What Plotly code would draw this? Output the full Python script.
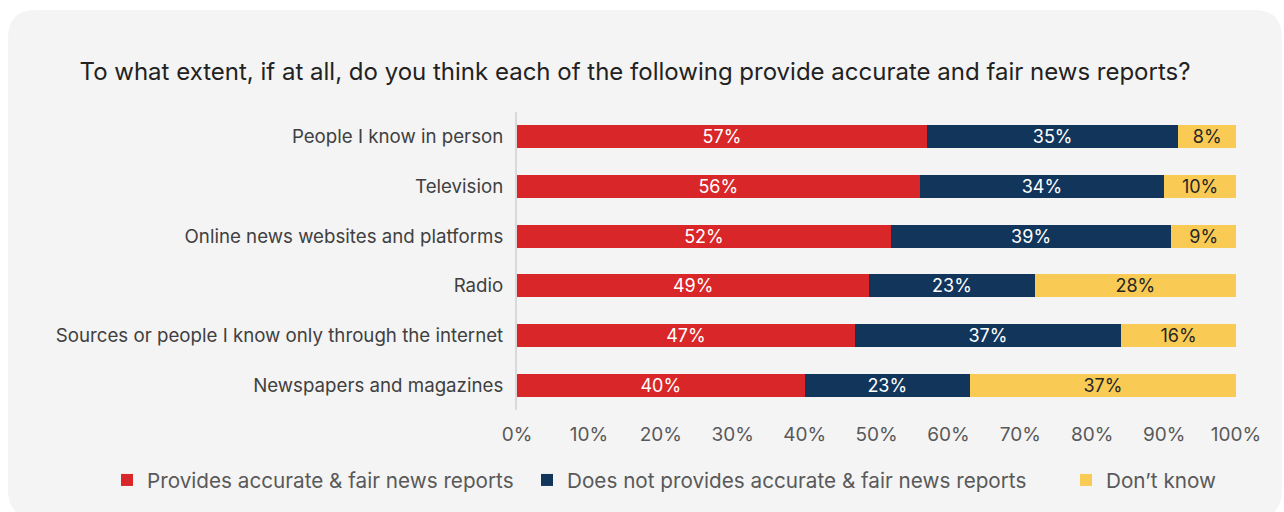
import plotly.graph_objects as go

# Survey results: share of respondents per source (percent)
categories = [
    "People I know in person",
    "Television",
    "Online news websites and platforms",
    "Radio",
    "Sources or people I know only through the internet",
    "Newspapers and magazines",
]
accurate = [57, 56, 52, 49, 47, 40]
not_accurate = [35, 34, 39, 23, 37, 23]
dont_know = [8, 10, 9, 28, 16, 37]

series_names = [
    "Provides accurate & fair news reports",
    "Does not provides accurate & fair news reports",
    "Don\u2019t know",
]
x_ticks = list(range(0, 101, 10))

FONT = "Inter, Noto Sans, sans-serif"
W, H = 1284, 512
# plot area in pixels
L, R, T, B = 517, 1236, 112, 410


def px_to_paper(x, y):
    return (x - L) / (R - L), (B - y) / (B - T)


def rounded_card(x0, y0, x1, y1, r):
    def p(x, y):
        px, py = px_to_paper(x, y)
        return f"{px:.5f},{py:.5f}"

    return (
        f"M {p(x0 + r, y0)} L {p(x1 - r, y0)} Q {p(x1, y0)} {p(x1, y0 + r)} "
        f"L {p(x1, y1 - r)} Q {p(x1, y1)} {p(x1 - r, y1)} "
        f"L {p(x0 + r, y1)} Q {p(x0, y1)} {p(x0, y1 - r)} "
        f"L {p(x0, y0 + r)} Q {p(x0, y0)} {p(x0 + r, y0)} Z"
    )


colors = ["#d92628", "#11355b", "#f9cb55"]
text_colors = ["white", "white", "#262626"]
values = [accurate, not_accurate, dont_know]
legend_ids = ["legend", "legend2", "legend3"]

fig = go.Figure()
for name, vals, col, tcol, lg in zip(series_names, values, colors, text_colors, legend_ids):
    fig.add_trace(
        go.Bar(
            y=categories,
            x=vals,
            name=name,
            orientation="h",
            marker=dict(color=col, line=dict(width=0)),
            text=[f"{v}%" for v in vals],
            textposition="inside",
            insidetextanchor="middle",
            textangle=0,
            constraintext="none",
            textfont=dict(family=FONT, size=18, color=tcol),
            legend=lg,
            hoverinfo="skip",
        )
    )

legend_common = dict(
    orientation="h",
    yanchor="middle",
    xanchor="left",
    bgcolor="rgba(0,0,0,0)",
    font=dict(family=FONT, size=20.7, color="#595959"),
)
legend_x_px = [107, 527, 1066]
leg_y = px_to_paper(0, 480)[1]

fig.update_layout(
    width=W,
    height=H,
    margin=dict(l=L, r=W - R, t=T, b=H - B),
    paper_bgcolor="white",
    plot_bgcolor="rgba(0,0,0,0)",
    barmode="stack",
    bargap=0.54,
    showlegend=True,
    title=dict(
        text="To what extent, if at all, do you think each of the following provide accurate and fair news reports?",
        font=dict(family=FONT, size=24, color="#222222"),
        x=635 / W,
        xref="container",
        xanchor="center",
        y=1 - 72 / H,
        yref="container",
        yanchor="middle",
    ),
    legend=dict(legend_common, x=px_to_paper(legend_x_px[0], 0)[0], y=leg_y),
    legend2=dict(legend_common, x=px_to_paper(legend_x_px[1], 0)[0], y=leg_y),
    legend3=dict(legend_common, x=px_to_paper(legend_x_px[2], 0)[0], y=leg_y),
    xaxis=dict(
        range=[0, 100],
        tickvals=x_ticks,
        ticktext=[f"{v}%" for v in x_ticks],
        showgrid=False,
        zeroline=False,
        showline=False,
        ticks="",
        ticklabelstandoff=11,
        tickfont=dict(family=FONT, size=19, color="#595959"),
        fixedrange=True,
    ),
    yaxis=dict(
        autorange="reversed",
        showgrid=False,
        zeroline=False,
        showline=True,
        linecolor="#d9d9d9",
        linewidth=2,
        ticks="",
        ticklabelstandoff=8,
        tickfont=dict(family=FONT, size=18.7, color="#404040"),
        fixedrange=True,
    ),
    shapes=[
        dict(
            type="path",
            xref="paper",
            yref="paper",
            path=rounded_card(8, 10, 1282, 518, 28),
            fillcolor="#f4f4f4",
            line=dict(width=0),
            layer="below",
        )
    ],
)

fig.write_html("out.html")
